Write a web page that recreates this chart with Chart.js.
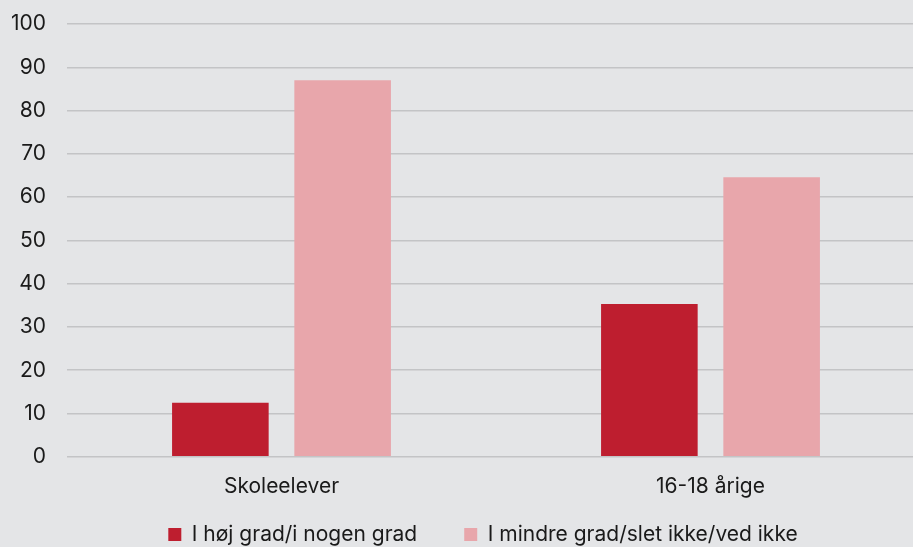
<!DOCTYPE html>
<html>
<head>
<meta charset="utf-8">
<script src="https://cdn.jsdelivr.net/npm/chart.js@4"></script>
<style>
  html, body { margin: 0; padding: 0; background: #e4e5e7; overflow: hidden; }
  #wrap { width: 925px; height: 547px; }
</style>
</head>
<body>
<div id="wrap"><canvas id="bars"></canvas></div>
<script>
const categories = ['Skoleelever', '16-18 årige'];
const highDegree = [12.5, 35.3];
const lowDegree = [87.0, 64.6];
const seriesNames = ['I høj grad/i nogen grad', 'I mindre grad/slet ikke/ved ikke'];

Chart.defaults.font.family = 'Inter, "Noto Sans", sans-serif';
Chart.defaults.color = '#1a1a1a';

// legend sits centred under the visible plot, canvas is a bit wider than the window
const legendShift = {
    id: 'legendShift',
    afterLayout(chart) {
        const lg = chart.legend;
        const dx = 483 - (lg.left + lg.right) / 2;
        lg.left += dx;
        lg.right += dx;
        lg.top = 477;
        lg.bottom = 547;
    }
};

const ctx = document.getElementById('bars');
new Chart(ctx, {
    type: 'bar',
    data: {
        labels: categories,
        datasets: [{
            label: seriesNames[0],
            data: highDegree,
            backgroundColor: '#be1e2f'
        }, {
            label: seriesNames[1],
            data: lowDegree,
            backgroundColor: '#e8a6ab'
        }]
    },
    options: {
        responsive: true,
        maintainAspectRatio: false,
        animation: false,
        categoryPercentage: 0.57,
        barPercentage: 0.79,
        layout: { padding: 0 },
        plugins: {
            legend: {
                position: 'bottom',
                maxHeight: 39,
                labels: {
                    font: { size: 21 },
                    boxWidth: 13,
                    boxHeight: 13,
                    padding: 47,
                    color: '#1a1a1a'
                }
            },
            tooltip: { enabled: false }
        },
        scales: {
            x: {
                grid: { display: false },
                border: { display: false },
                ticks: { font: { size: 21 }, padding: 9 }
            },
            y: {
                min: 0,
                max: 100,
                ticks: { stepSize: 10, font: { size: 21 }, padding: 21 },
                grid: { color: '#c3c4c6', lineWidth: 1.5, drawTicks: false },
                border: { display: false },
                afterFit: function (scale) {
                    scale.width = 67;
                    scale.paddingTop = 24;
                }
            }
        }
    },
    plugins: [legendShift]
});
</script>
</body>
</html>
